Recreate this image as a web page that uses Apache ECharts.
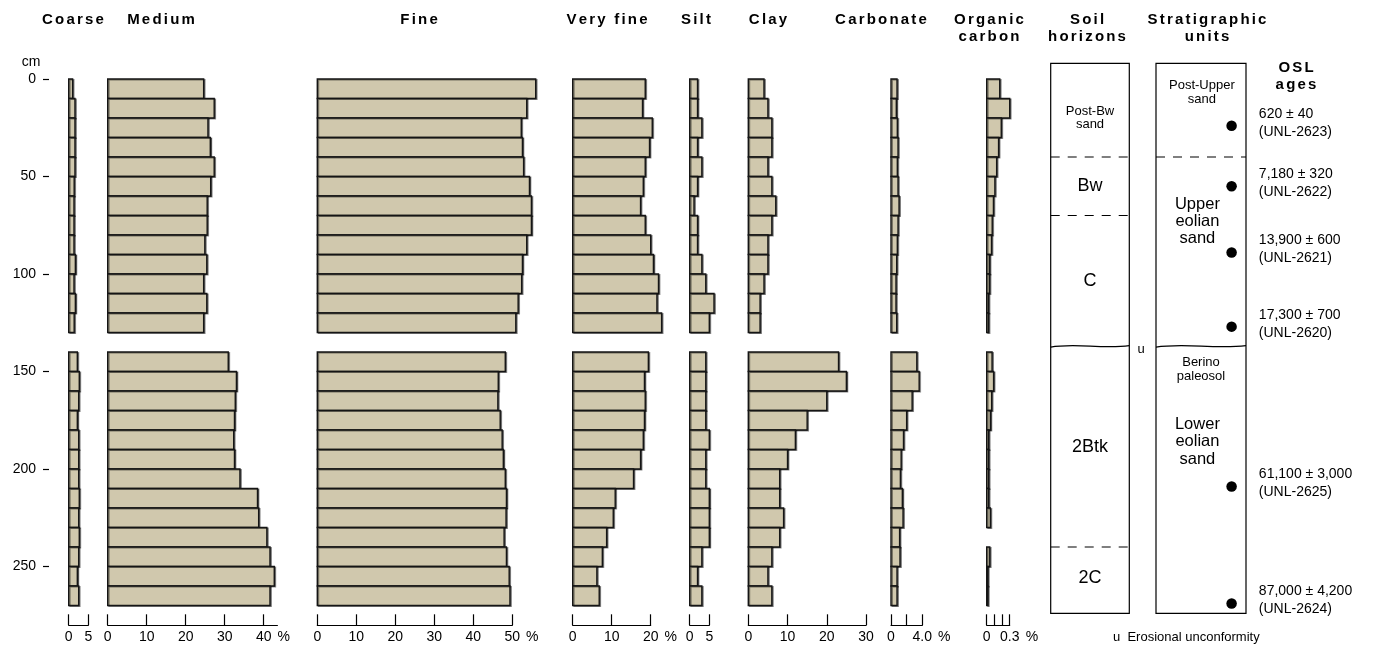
<!DOCTYPE html>
<html>
<head>
<meta charset="utf-8">
<script src="https://cdn.jsdelivr.net/npm/echarts@6/dist/echarts.min.js"></script>
<style>
  html, body { margin: 0; padding: 0; background: #fff; }
  #chart { width: 1375px; height: 646px; }
</style>
</head>
<body>
<div id="chart"></div>
<script>
// ---- Sample depths (top of each 10 cm sample, cm) ----
const depthTops = [0, 10, 20, 30, 40, 50, 60, 70, 80, 90, 100, 110, 120,
                   140, 150, 160, 170, 180, 190, 200, 210, 220, 230, 240, 250, 260];
const sampleThickness = 10;

// ---- Particle size and chemistry, % ----
const coarse = [1.0, 1.6, 1.6, 1.6, 1.6, 1.4, 1.35, 1.35, 1.35, 1.7, 1.35, 1.7, 1.4,
                2.2, 2.7, 2.55, 2.2, 2.55, 2.55, 2.55, 2.7, 2.55, 2.7, 2.55, 2.2, 2.55];
const medium = [24.6, 27.3, 25.7, 26.3, 27.3, 26.4, 25.5, 25.5, 24.9, 25.4, 24.6, 25.4, 24.6,
                30.9, 33.0, 32.7, 32.5, 32.3, 32.5, 33.9, 38.4, 38.7, 40.8, 41.6, 42.7, 41.6];
const fine = [56.0, 53.7, 52.3, 52.6, 52.9, 54.4, 54.9, 54.9, 53.7, 52.6, 52.4, 51.5, 50.9,
              48.2, 46.4, 46.3, 46.9, 47.4, 47.7, 48.2, 48.5, 48.4, 47.9, 48.5, 49.2, 49.4];
const veryFine = [18.6, 17.9, 20.4, 19.7, 18.6, 18.1, 17.4, 18.6, 20.0, 20.7, 22.0, 21.6, 22.8,
                  19.4, 18.4, 18.6, 18.4, 18.1, 17.4, 15.6, 10.9, 10.4, 8.7, 7.6, 6.2, 6.8];
const silt = [2.0, 2.0, 3.1, 2.0, 3.1, 2.0, 1.1, 2.0, 2.0, 3.1, 4.1, 6.2, 5.0,
              4.1, 4.1, 4.1, 4.1, 5.0, 4.1, 4.1, 5.0, 5.0, 5.0, 3.1, 2.0, 3.1];
const clay = [4, 5, 6, 6, 5, 6, 7, 6, 5, 5, 4, 3, 3,
              23, 25, 20, 15, 12, 10, 8, 8, 9, 8, 6, 5, 6];
const carbonate = [0.77, 0.68, 0.81, 0.9, 0.81, 0.9, 1.03, 0.9, 0.81, 0.73, 0.64, 0.64, 0.73,
                   3.3, 3.6, 2.7, 2.0, 1.6, 1.3, 1.2, 1.45, 1.54, 1.1, 1.15, 0.77, 0.77];
const organicCarbon = [0.17, 0.30, 0.19, 0.155, 0.13, 0.107, 0.088, 0.072, 0.063, 0.037, 0.037, 0.024, 0.024,
                       0.07, 0.09, 0.065, 0.048, 0.026, 0.026, 0.026, 0.026, 0.048, null, 0.04, 0.015, 0.015];

// ---- Column titles and axis ticks ----
const columnTitles = ['Coarse', 'Medium', 'Fine', 'Very fine', 'Silt', 'Clay', 'Carbonate',
                      'Organic\ncarbon', 'Soil\nhorizons', 'Stratigraphic\nunits'];
const depthTicks = [0, 50, 100, 150, 200, 250];
const coarseTicks = [0, 5];
const mediumTicks = [0, 10, 20, 30, 40];
const fineTicks = [0, 10, 20, 30, 40, 50];
const veryFineTicks = [0, 10, 20];
const siltTicks = [0, 5];
const clayTicks = [0, 10, 20, 30];
const carbonateTicks = [0, 2, 4];
const carbonateLabels = [0, 4];
const organicTicks = [0, 0.1, 0.2, 0.3];
const organicLabels = [0, 0.3];

// ---- Soil horizons and stratigraphy (depths in cm) ----
const soilHorizonNames = ['Post-Bw\nsand', 'Bw', 'C', '2Btk', '2C'];
const soilHorizonBounds = [0, 40, 70, 137, 240, 272];
const soilDashedBounds = [40, 70, 240];
const unconformityDepth = 137;
const stratUnitNames = ['Post-Upper\nsand', 'Upper\neolian\nsand', 'Berino\npaleosol', 'Lower\neolian\nsand'];
const stratLabelDepths = [7, 73, 149, 186];
const stratDashedBounds = [40];

// ---- OSL ages ----
const oslDepths = [24, 55, 89, 127, 209, 269];
const oslAges = ['620 ± 40', '7,180 ± 320', '13,900 ± 600', '17,300 ± 700', '61,100 ± 3,000', '87,000 ± 4,200'];
const oslLabIds = ['UNL-2623', 'UNL-2622', 'UNL-2621', 'UNL-2620', 'UNL-2625', 'UNL-2624'];

// ---- Layout & style ----
const FONT = '"Liberation Sans", Arial, Helvetica, sans-serif';
const BAR_FILL = '#d0c8ad';
const BAR_STROKE = '#151515';
const DEPTH_MIN = -8, DEPTH_MAX = 274;
const PLOT_TOP = 63.4, PLOT_H = 549.9;
const OSL_DOT_X = 0.84;

const barColumns = [
  { values: coarse,        left: 68.7,  width: 19.6,  max: 5,    ticks: coarseTicks,   labels: coarseTicks },
  { values: medium,        left: 107.7, width: 169.7, max: 43.5, ticks: mediumTicks,   labels: mediumTicks,   unit: true, nameGap: 9, nameAlign: 'right' },
  { values: fine,          left: 317.3, width: 195,   max: 50,   ticks: fineTicks,     labels: fineTicks,     unit: true, nameGap: 11 },
  { values: veryFine,      left: 572.7, width: 78,    max: 20,   ticks: veryFineTicks, labels: veryFineTicks, unit: true, nameGap: 10 },
  { values: silt,          left: 689.7, width: 19.6,  max: 5,    ticks: siltTicks,     labels: siltTicks },
  { values: clay,          left: 748.3, width: 117.7, max: 30,   ticks: clayTicks,     labels: clayTicks },
  { values: carbonate,     left: 891,   width: 31.3,  max: 4,    ticks: carbonateTicks, labels: carbonateLabels, unit: true, nameGap: 15,
    fmt: v => (v === 4 ? '4.0' : String(v)) },
  { values: organicCarbon, left: 986.7, width: 23,    max: 0.3,  ticks: organicTicks,  labels: organicLabels, unit: true, nameGap: 16 }
];
const soilBox = { left: 1050.7, width: 78.6 };
const stratBox = { left: 1156, width: 90 };
const titleCenters = [73, 161, 419, 607, 696, 768, 881, 989, 1087, 1207];

const grids = [];
const xAxes = [];
const yAxes = [];
const series = [];

function depthAxis(i, visible) {
  return {
    gridIndex: i, type: 'value', inverse: true, min: DEPTH_MIN, max: DEPTH_MAX,
    position: 'left', offset: visible ? 19.7 : 0, show: visible,
    axisLine: { show: false, onZero: false },
    axisTick: { show: visible, length: 6, customValues: depthTicks, lineStyle: { color: '#000', width: 1.2 } },
    axisLabel: { show: visible, customValues: depthTicks, margin: 13, color: '#000', fontSize: 14, fontFamily: FONT },
    splitLine: { show: false }
  };
}

function barItem(params, api) {
  const v = api.value(2);
  if (!(v > 0)) return null;
  const a = api.coord([0, api.value(0)]);
  const b = api.coord([v, api.value(1)]);
  return {
    type: 'rect',
    shape: { x: a[0], y: a[1], width: b[0] - a[0], height: b[1] - a[1] },
    style: {
      fill: BAR_FILL, stroke: BAR_STROKE, lineWidth: 1.4,
      shadowColor: 'rgba(0,0,0,0.45)', shadowOffsetX: 1.2, shadowOffsetY: 0.8, shadowBlur: 0.5
    }
  };
}

barColumns.forEach((c, i) => {
  grids.push({ left: c.left, top: PLOT_TOP, width: c.width, height: PLOT_H, containLabel: false });
  xAxes.push({
    gridIndex: i, type: 'value', min: 0, max: c.max, position: 'bottom', offset: 12,
    axisLine: { show: true, onZero: false, lineStyle: { color: '#000', width: 1.2 } },
    axisTick: { show: true, inside: true, length: 11, customValues: c.ticks, lineStyle: { color: '#000', width: 1.2 } },
    axisLabel: { show: true, customValues: c.labels, formatter: c.fmt || (v => String(v)),
                 margin: 5, color: '#000', fontSize: 14, fontFamily: FONT },
    splitLine: { show: false },
    name: c.unit ? '%' : '', nameLocation: 'end', nameGap: c.nameGap || 0,
    nameTextStyle: { color: '#000', fontSize: 14, fontFamily: FONT, verticalAlign: 'top',
                     align: c.nameAlign || 'left', padding: [5, 0, 0, 0] }
  });
  yAxes.push(depthAxis(i, i === 0));
  series.push({
    type: 'custom', xAxisIndex: i, yAxisIndex: i, clip: false,
    renderItem: barItem,
    encode: { x: 2, y: [0, 1] },
    data: depthTops.map((t, k) => [t, t + sampleThickness, c.values[k] == null ? '-' : c.values[k]])
  });
});

// ---- Soil horizon and stratigraphic columns ----
const SOIL = barColumns.length, STRAT = SOIL + 1;
[soilBox, stratBox].forEach((b, j) => {
  const i = SOIL + j;
  grids.push({ left: b.left, top: PLOT_TOP, width: b.width, height: PLOT_H, show: true,
               borderColor: '#000', borderWidth: 1.2, backgroundColor: 'transparent' });
  xAxes.push({ gridIndex: i, type: 'value', min: 0, max: 1, show: false });
  yAxes.push(depthAxis(i, false));
});

function dashItem(params, api) {
  const d = api.value(1);
  const p0 = api.coord([0, d]), p1 = api.coord([1, d]);
  return { type: 'line', shape: { x1: p0[0], y1: p0[1], x2: p1[0], y2: p1[1] },
           style: { stroke: '#000', lineWidth: 1.2, lineDash: [9, 8] } };
}
function waveItem(params, api) {
  const d = api.value(1);
  const p0 = api.coord([0, d]), p1 = api.coord([1, d]);
  const w = p1[0] - p0[0], y = p0[1];
  return { type: 'bezierCurve',
           shape: { x1: p0[0], y1: y + 1, x2: p1[0], y2: y - 0.5,
                    cpx1: p0[0] + w * 0.3, cpy1: y - 3.5, cpx2: p0[0] + w * 0.65, cpy2: y + 3 },
           style: { stroke: '#000', lineWidth: 1.2, fill: null } };
}
function labelItem(names, sizes, xs) {
  return function (params, api) {
    const p = api.coord([xs[params.dataIndex], api.value(1)]);
    const name = names[params.dataIndex];
    const fs = sizes[params.dataIndex];
    return { type: 'text', x: p[0], y: p[1],
             style: { text: name, align: 'center', verticalAlign: 'middle', fill: '#000',
                      font: fs + 'px ' + FONT, lineHeight: fs * 1.05 } };
  };
}

const soilLabelDepths = soilHorizonNames.map((n, k) => (soilHorizonBounds[k] + soilHorizonBounds[k + 1]) / 2);
series.push(
  { type: 'custom', xAxisIndex: SOIL, yAxisIndex: SOIL, renderItem: dashItem, encode: { x: 0, y: 1 },
    data: soilDashedBounds.map(d => [0, d]) },
  { type: 'custom', xAxisIndex: SOIL, yAxisIndex: SOIL, renderItem: waveItem, encode: { x: 0, y: 1 },
    data: [[0, unconformityDepth]] },
  { type: 'custom', xAxisIndex: SOIL, yAxisIndex: SOIL, encode: { x: 0, y: 1 },
    renderItem: labelItem(soilHorizonNames, soilHorizonNames.map(n => (n.includes('\n') ? 13 : 18)),
                          soilHorizonNames.map(() => 0.5)),
    data: soilLabelDepths.map(d => [0.5, d]) },
  { type: 'custom', xAxisIndex: STRAT, yAxisIndex: STRAT, renderItem: dashItem, encode: { x: 0, y: 1 },
    data: stratDashedBounds.map(d => [0, d]) },
  { type: 'custom', xAxisIndex: STRAT, yAxisIndex: STRAT, renderItem: waveItem, encode: { x: 0, y: 1 },
    data: [[0, unconformityDepth]] },
  { type: 'custom', xAxisIndex: STRAT, yAxisIndex: STRAT, encode: { x: 0, y: 1 },
    renderItem: labelItem(stratUnitNames, [13, 16.5, 13, 16.5], [0.51, 0.46, 0.5, 0.46]),
    data: stratLabelDepths.map(d => [0.5, d]) },
  { type: 'scatter', xAxisIndex: STRAT, yAxisIndex: STRAT, symbol: 'circle', symbolSize: 10.5,
    itemStyle: { color: '#000', opacity: 1 }, silent: true,
    data: oslDepths.map(d => [OSL_DOT_X, d]),
    label: { show: true, position: 'right', distance: 22, offset: [0, -3], color: '#000',
             fontSize: 14, fontFamily: FONT, lineHeight: 18, align: 'left',
             formatter: p => oslAges[p.dataIndex] + '\n(' + oslLabIds[p.dataIndex] + ')' } }
);

// ---- Titles and free text ----
function spaced(s) {
  return s.split('\n').map(line => line.split('').map(ch => '{s|' + ch + '}').join('')).join('\n');
}
const titleRich = { s: { fontSize: 15, fontWeight: 'bold', fontFamily: FONT, padding: [0, 1.1, 0, 1.1], lineHeight: 17, color: '#000' } };
const graphics = columnTitles.map((t, k) => ({
  type: 'text', x: titleCenters[k], y: 11,
  style: { text: spaced(t), align: 'center', verticalAlign: 'top', rich: titleRich, fill: '#000' }
}));
graphics.push(
  { type: 'text', x: 1296, y: 59, style: { text: spaced('OSL\nages'), align: 'center', verticalAlign: 'top', rich: titleRich } },
  { type: 'text', x: 31, y: 62, style: { text: 'cm', align: 'center', verticalAlign: 'middle', font: '14px ' + FONT, fill: '#000' } },
  { type: 'text', x: 1141, y: 349, style: { text: 'u', align: 'center', verticalAlign: 'middle', font: '13px ' + FONT, fill: '#000' } },
  { type: 'text', x: 1113, y: 637, style: { text: 'u  Erosional unconformity', align: 'left', verticalAlign: 'middle', font: '13px ' + FONT, fill: '#000' } }
);

const chart = echarts.init(document.getElementById('chart'), null, { renderer: 'canvas' });
chart.setOption({
  animation: false,
  backgroundColor: '#fff',
  grid: grids,
  xAxis: xAxes,
  yAxis: yAxes,
  series: series,
  graphic: graphics
});
</script>
</body>
</html>
